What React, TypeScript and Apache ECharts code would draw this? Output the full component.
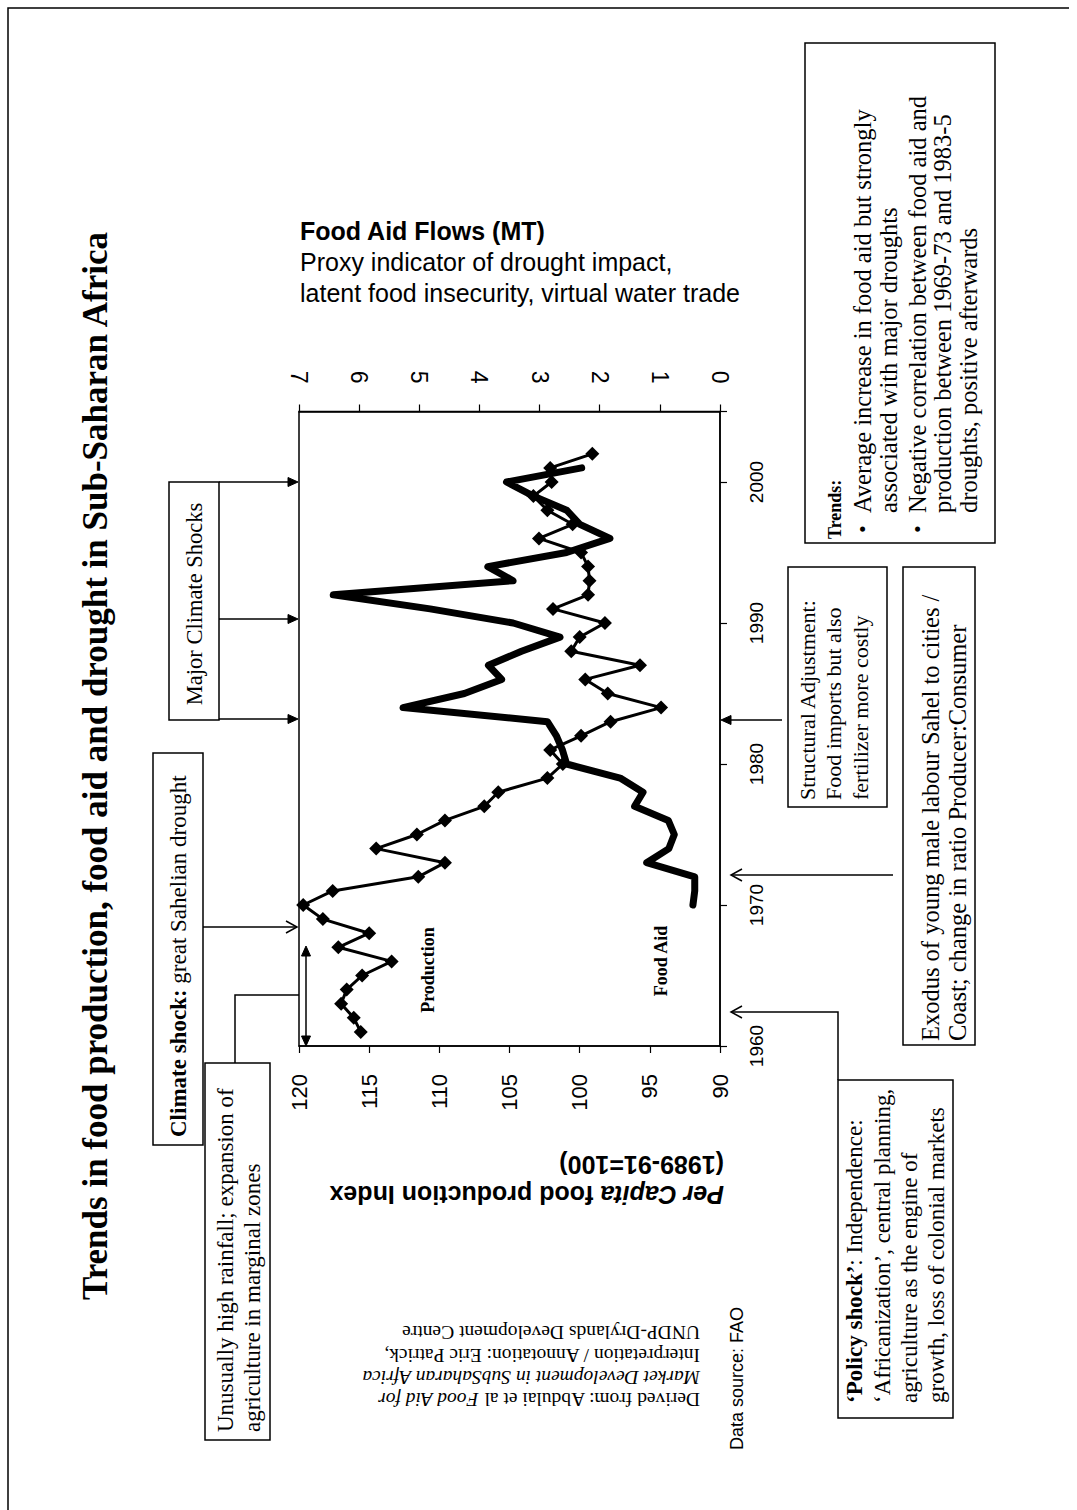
import React, { useEffect, useRef } from 'react';
import * as echarts from 'echarts';

// ---------------- data ----------------
const prodYears = [1961, 1962, 1963, 1964, 1965, 1966, 1967, 1968, 1969, 1970, 1971, 1972, 1973, 1974, 1975, 1976, 1977, 1978, 1979, 1980, 1981, 1982, 1983, 1984, 1985, 1986, 1987, 1988, 1989, 1990, 1991, 1992, 1993, 1994, 1995, 1996, 1997, 1998, 1999, 2000, 2001, 2002];
const production = [115.6, 116.1, 117.0, 116.6, 115.5, 113.4, 117.2, 115.0, 118.3, 119.7, 117.6, 111.5, 109.6, 114.5, 111.6, 109.6, 106.8, 105.8, 102.3, 101.2, 102.1, 99.9, 97.8, 94.2, 98.0, 99.6, 95.7, 100.6, 100.0, 98.2, 101.9, 99.4, 99.3, 99.4, 99.9, 102.9, 100.5, 102.3, 103.3, 102.0, 102.1, 99.1];

const aidYears = [1970, 1971, 1972, 1973, 1974, 1975, 1976, 1977, 1978, 1979, 1980, 1981, 1982, 1983, 1984, 1985, 1986, 1987, 1988, 1989, 1990, 1991, 1992, 1993, 1994, 1995, 1996, 1997, 1998, 1999, 2000, 2001];
const foodAid = [0.45, 0.42, 0.42, 1.22, 0.85, 0.76, 0.86, 1.42, 1.28, 1.66, 2.55, 2.62, 2.72, 2.87, 5.27, 4.25, 3.63, 3.85, 3.3, 2.66, 3.44, 4.82, 6.43, 3.44, 3.86, 2.55, 1.83, 2.33, 2.55, 3.1, 3.55, 2.3];

const productionTicks = [90, 95, 100, 105, 110, 115, 120];
const aidTicks = [0, 1, 2, 3, 4, 5, 6, 7];
const yearTicks = [1960, 1970, 1980, 1990, 2000];
const yearMax = 2005;

// ---------------- texts ----------------
const titleText = 'Trends in food production, food aid and drought in Sub-Saharan Africa';
const aidHeader = ['Food Aid Flows (MT)', 'Proxy indicator of drought impact,', 'latent food insecurity, virtual water trade'];
const prodAxisName = ['Per Capita', ' food production Index', '(1989-91=100)'];
const rainfallText = ['Unusually high rainfall; expansion of', 'agriculture in marginal zones'];
const climateText = ['Climate shock:', ' great Sahelian drought'];
const majorText = 'Major Climate Shocks';
const structuralText = ['Structural Adjustment:', 'Food imports but also', 'fertilizer more costly'];
const exodusText = ['Exodus of young male labour Sahel to cities /', 'Coast; change in ratio Producer:Consumer'];
const policyText = ['\u2018Policy shock\u2019', ': Independence:', '\u2018Africanization\u2019, central planning,', 'agriculture as the engine of', 'growth, loss of colonial markets'];
const trendsTitle = 'Trends:';
const trendsBullet1 = ['Average increase in food aid but strongly', 'associated with major droughts'];
const trendsBullet2 = ['Negative correlation between food aid and', 'production between 1969-73 and 1983-5', 'droughts, positive afterwards'];
const derivedText = ['Derived from: Abdulai et al ', 'Food Aid for', 'Market Development in SubSaharan Africa', 'Interpretation / Annotation: Eric Patrick,', 'UNDP-Drylands Development Centre'];
const sourceText = 'Data source: FAO';

const SERIF = '"Liberation Serif", "Times New Roman", serif';
const SANS = '"Liberation Sans", Arial, sans-serif';
const UP = Math.PI / 2;

type TOpt = {
  x: number; y: number; text: string; rot?: number; size: number; family: string;
  weight?: string; fstyle?: string; align?: string; valign?: string; lh?: number; rich?: any;
};
const T = (o: TOpt) => ({
  type: 'text', x: o.x, y: o.y, rotation: o.rot === undefined ? UP : o.rot, silent: true, z: 100,
  style: {
    text: o.text, fill: '#000', fontSize: o.size, fontFamily: o.family,
    fontWeight: o.weight || 'normal', fontStyle: o.fstyle || 'normal',
    textAlign: o.align || 'left', textVerticalAlign: o.valign || 'top',
    lineHeight: o.lh, rich: o.rich,
  },
});
const richStyle = (size: number, family: string, weight: string, fstyle: string, lh?: number) => ({
  fontSize: size, fontFamily: family, fontWeight: weight, fontStyle: fstyle, fill: '#000', lineHeight: lh,
});
const box = (x: number, y: number, w: number, h: number) => ({
  type: 'rect', silent: true, z: 90, shape: { x, y, width: w, height: h },
  style: { fill: 'none', stroke: '#000', lineWidth: 1.5 },
});
const seg = (pts: number[][], w = 1.5) => ({
  type: 'polyline', silent: true, z: 90, shape: { points: pts }, style: { stroke: '#000', lineWidth: w, fill: 'none' },
});
const headFilled = (tx: number, ty: number, dx: number, dy: number, len = 10, half = 4.5) => ({
  type: 'polygon', silent: true, z: 91,
  shape: { points: [[tx, ty], [tx - dx * len - dy * half, ty - dy * len + dx * half], [tx - dx * len + dy * half, ty - dy * len - dx * half]] },
  style: { fill: '#000', stroke: '#000', lineWidth: 1 },
});
const headOpen = (tx: number, ty: number, dx: number, dy: number, len = 11, half = 6) =>
  seg([[tx - dx * len - dy * half, ty - dy * len + dx * half], [tx, ty], [tx - dx * len + dy * half, ty - dy * len - dx * half]], 1.5);

export default function App() {
  const ref = useRef<HTMLDivElement>(null);
  useEffect(() => {
    if (!ref.current) return;
    const chart = echarts.init(ref.current, undefined, { renderer: 'svg' });

    const axisCommon = {
      type: 'value',
      axisLine: { show: true, onZero: false, lineStyle: { color: '#000', width: 1.5 } },
      axisTick: { show: true, inside: false, length: 7, lineStyle: { color: '#000', width: 1.2 } },
      splitLine: { show: false },
    };

    const boxFont = 23;
    const graphics: any[] = [
      seg([[8, 1510], [8, 8], [1069, 8]], 1.5),
      T({ x: 95, y: 766, text: titleText, size: 35, family: SERIF, weight: 'bold', align: 'center', valign: 'middle' }),
      T({
        x: 300, y: 215.5, rot: 0, size: 25, family: SANS, lh: 31,
        text: `{b|${aidHeader[0]}}\n${aidHeader[1]}\n${aidHeader[2]}`,
        rich: { b: richStyle(25, SANS, 'bold', 'normal', 31) },
      }),
      T({
        x: 724, y: 1210, rot: Math.PI, size: 25, family: SANS, weight: 'bold', lh: 30,
        text: `{bi|${prodAxisName[0]}}${prodAxisName[1]}\n${prodAxisName[2]}`,
        rich: { bi: richStyle(25, SANS, 'bold', 'italic', 30) },
      }),
      T({
        x: 700, y: 1411, rot: Math.PI, size: 19.5, family: SERIF, lh: 22.3,
        text: `${derivedText[0]}{i|${derivedText[1]}}\n{i|${derivedText[2]}}\n${derivedText[3]}\n${derivedText[4]}`,
        rich: { i: richStyle(19.5, SERIF, 'normal', 'italic', 22.3) },
      }),
      T({ x: 737, y: 1450, text: sourceText, size: 18, family: SANS, valign: 'middle' }),

      box(205, 1063, 65, 377),
      T({ x: 211.5, y: 1432, text: rainfallText.join('\n'), size: boxFont, family: SERIF, lh: 27 }),
      seg([[235, 1063], [235, 995], [299, 995]]),

      box(153, 753, 50, 392),
      T({
        x: 178, y: 1137, text: `{b|${climateText[0]}}${climateText[1]}`, size: boxFont, family: SERIF, valign: 'middle',
        rich: { b: richStyle(boxFont, SERIF, 'bold', 'normal') },
      }),
      seg([[203, 927], [297, 927]]),
      headOpen(297, 927, 1, 0),

      box(169, 482, 50, 238),
      T({ x: 194, y: 604, text: majorText, size: 22.5, family: SERIF, align: 'center', valign: 'middle' }),
      seg([[219, 482], [290, 482]]), headFilled(298, 482, 1, 0),
      seg([[219, 619], [290, 619]]), headFilled(298, 619, 1, 0),
      seg([[219, 719], [290, 719]]), headFilled(298, 719, 1, 0),

      seg([[306, 955], [306, 1037]]), headFilled(306, 946, 0, -1), headFilled(306, 1046, 0, 1),

      T({ x: 428, y: 970, text: 'Production', size: 18, family: SERIF, weight: 'bold', align: 'center', valign: 'middle' }),
      T({ x: 661, y: 961, text: 'Food Aid', size: 18, family: SERIF, weight: 'bold', align: 'center', valign: 'middle' }),

      box(788, 567, 99, 240),
      T({ x: 793.75, y: 800, text: structuralText.join('\n'), size: 22, family: SERIF, lh: 26.5 }),
      seg([[782, 720], [730, 720]]), headFilled(721, 720, -1, 0),

      box(903, 567, 72, 478),
      T({ x: 916.5, y: 1041, text: exodusText.join('\n'), size: 24.5, family: SERIF, lh: 27 }),
      seg([[893, 875], [731, 875]]), headOpen(731, 875, -1, 0),

      box(838, 1080, 115, 338),
      T({
        x: 841.3, y: 1403, size: boxFont, family: SERIF, lh: 27.3,
        text: `{b|${policyText[0]}}${policyText[1]}\n${policyText[2]}\n${policyText[3]}\n${policyText[4]}`,
        rich: { b: richStyle(boxFont, SERIF, 'bold', 'normal', 27.3) },
      }),
      seg([[838, 1080], [838, 1012], [731, 1012]]), headOpen(731, 1012, -1, 0),

      box(805, 43, 190, 500),
      T({ x: 835, y: 539, text: trendsTitle, size: 18, family: SERIF, weight: 'bold', valign: 'middle' }),
      T({ x: 862, y: 533, text: '\u2022', size: 22, family: SERIF, valign: 'middle' }),
      T({ x: 917, y: 533, text: '\u2022', size: 22, family: SERIF, valign: 'middle' }),
      T({ x: 849, y: 513, text: trendsBullet1.join('\n'), size: 24.5, family: SERIF, lh: 26 }),
      T({ x: 904.25, y: 513, text: trendsBullet2.join('\n'), size: 24.5, family: SERIF, lh: 25.5 }),
    ];

    chart.setOption({
      animation: false,
      backgroundColor: '#fff',
      grid: { left: 299, right: 1077 - 720, top: 411.5, bottom: 1510 - 1046, show: true, borderColor: '#000', borderWidth: 1.5 },
      xAxis: [
        {
          ...axisCommon, position: 'bottom', inverse: true,
          min: productionTicks[0], max: productionTicks[productionTicks.length - 1], interval: productionTicks[1] - productionTicks[0],
          axisLabel: { rotate: 90, margin: 28, color: '#000', fontSize: 22, fontFamily: SANS },
        },
        {
          ...axisCommon, position: 'top', inverse: true,
          min: aidTicks[0], max: aidTicks[aidTicks.length - 1], interval: aidTicks[1] - aidTicks[0],
          axisLabel: { rotate: 90, margin: 28, color: '#000', fontSize: 23, fontFamily: SANS },
        },
      ],
      yAxis: {
        ...axisCommon, position: 'right',
        min: yearTicks[0], max: yearMax, interval: yearTicks[1] - yearTicks[0],
        axisLabel: {
          rotate: 90, margin: 27, color: '#000', fontSize: 19, fontFamily: SANS,
          formatter: (v: number) => (yearTicks.indexOf(v) >= 0 ? String(v) : ''),
        },
      },
      series: [
        {
          type: 'line', name: 'Food Aid', xAxisIndex: 1, yAxisIndex: 0,
          data: aidYears.map((yr, i) => [foodAid[i], yr]),
          symbol: 'none', lineStyle: { color: '#000', width: 7, join: 'round', cap: 'round' },
          z: 2,
        },
        {
          type: 'line', name: 'Production', xAxisIndex: 0, yAxisIndex: 0,
          data: prodYears.map((yr, i) => [production[i], yr]),
          symbol: 'diamond', symbolSize: 14, itemStyle: { color: '#000' },
          lineStyle: { color: '#000', width: 3 },
          z: 3,
        },
      ],
      graphic: { elements: graphics },
    });
    return () => chart.dispose();
  }, []);

  return <div ref={ref} style={{ position: 'absolute', left: 0, top: 0, width: 1077, height: 1510, background: '#fff' }} />;
}
